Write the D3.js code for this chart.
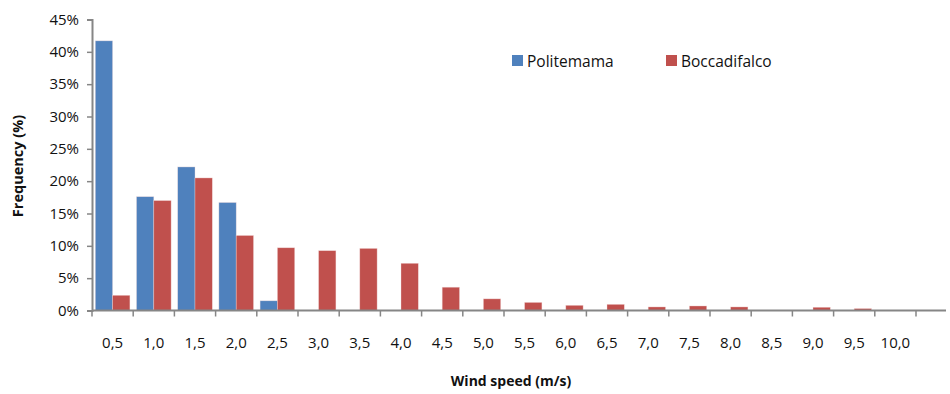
<!DOCTYPE html>
<html>
<head>
<meta charset="utf-8">
<script src="https://cdn.jsdelivr.net/npm/d3@7"></script>
<style>
  body { margin: 0; background: #fff; }
  svg text { font-family: 'Open Sans', sans-serif; fill: #111; }
</style>
</head>
<body>
<div id="viz"></div>
<script>
// wind speed classes (m/s)
const speedClasses = ['0,5', '1,0', '1,5', '2,0', '2,5', '3,0', '3,5', '4,0', '4,5', '5,0',
  '5,5', '6,0', '6,5', '7,0', '7,5', '8,0', '8,5', '9,0', '9,5', '10,0'];
const seriesNames = ['Politemama', 'Boccadifalco'];
// frequency in %
const politemama = [41.7, 17.6, 22.2, 16.7, 1.5, 0, 0, 0, 0, 0, 0, 0, 0, 0, 0, 0, 0, 0, 0, 0];
const boccadifalco = [2.35, 17.0, 20.5, 11.6, 9.7, 9.25, 9.6, 7.3, 3.6, 1.8,
  1.25, 0.8, 0.95, 0.55, 0.7, 0.55, 0, 0.5, 0.3, 0];
const yTicks = [0, 5, 10, 15, 20, 25, 30, 35, 40, 45];
const seriesColors = ['#4F81BD', '#C0504D'];

const width = 950, height = 394;
const margin = { top: 19.5, right: 34, bottom: 83.5, left: 92 };

const svg = d3.select('#viz').append('svg')
  .attr('width', width)
  .attr('height', height);

const x0 = d3.scaleBand()
  .domain(speedClasses)
  .range([margin.left, 916])
  .paddingInner(0.16)
  .paddingOuter(0.08);

const x1 = d3.scaleBand()
  .domain(seriesNames)
  .range([0, x0.bandwidth()]);

const y = d3.scaleLinear()
  .domain([0, 45])
  .range([height - margin.bottom, margin.top]);

const color = d3.scaleOrdinal().domain(seriesNames).range(seriesColors);

const rows = speedClasses.map((c, i) => ({ cls: c, values: [politemama[i], boccadifalco[i]] }));

// bars
const groups = svg.selectAll('.grp')
  .data(rows)
  .enter().append('g')
  .attr('class', 'grp')
  .attr('transform', d => `translate(${x0(d.cls)},0)`);

groups.selectAll('rect')
  .data(d => d.values.map((v, j) => ({ name: seriesNames[j], v })).filter(e => e.v > 0))
  .enter().append('rect')
  .attr('x', d => x1(d.name))
  .attr('y', d => y(d.v))
  .attr('width', x1.bandwidth())
  .attr('height', d => y(0) - y(d.v))
  .style('fill', d => color(d.name))
  .style('stroke', '#f4dcdc')
  .style('stroke-opacity', 0.6)
  .style('stroke-width', 0.6);

// y axis
const yAxis = svg.append('g')
  .attr('transform', `translate(${margin.left},0)`)
  .call(d3.axisLeft(y).tickValues(yTicks).tickSize(5).tickSizeOuter(5).tickPadding(8).tickFormat(d => d + '%'));
yAxis.select('.domain').attr('stroke', '#868686').attr('stroke-width', 2);
yAxis.selectAll('.tick line').attr('stroke', '#868686').attr('stroke-width', 1.5);
yAxis.selectAll('text').style('font-size', '15px');

// x axis: ticks between the classes
const xAxis = svg.append('g')
  .attr('transform', `translate(0,${y(0)})`);
const tickPos = speedClasses.map(c => x0(c) - x0.step() * 0.08).concat([916]);
xAxis.selectAll('line.tk')
  .data(tickPos)
  .enter().append('line')
  .attr('class', 'tk')
  .attr('x1', d => d).attr('x2', d => d)
  .attr('y1', 0).attr('y2', 6)
  .attr('stroke', '#868686').attr('stroke-width', 1.5);
xAxis.append('line')
  .attr('x1', margin.left).attr('x2', 946)
  .attr('y1', 0).attr('y2', 0)
  .attr('stroke', '#868686').attr('stroke-width', 2.2);
xAxis.selectAll('text.lbl')
  .data(speedClasses)
  .enter().append('text')
  .attr('class', 'lbl')
  .attr('x', d => x0(d) + x0.bandwidth() / 2)
  .attr('y', 37)
  .attr('text-anchor', 'middle')
  .style('font-size', '15px')
  .text(d => d);

// axis titles
svg.append('text')
  .attr('x', 511)
  .attr('y', 386)
  .attr('text-anchor', 'middle')
  .style('font-size', '14px')
  .style('font-weight', 'bold')
  .text('Wind speed (m/s)');

svg.append('text')
  .attr('transform', 'translate(23,166) rotate(-90)')
  .attr('text-anchor', 'middle')
  .style('font-size', '14.5px')
  .style('font-weight', 'bold')
  .text('Frequency (%)');

// legend
const legend = svg.append('g').attr('class', 'legend');
const legendX = [512, 666];
const legendItem = legend.selectAll('.legend-item')
  .data(seriesNames)
  .enter().append('g')
  .attr('class', 'legend-item')
  .attr('transform', (d, i) => `translate(${legendX[i]},55)`);
legendItem.append('rect')
  .attr('width', 11).attr('height', 11)
  .style('fill', d => color(d));
legendItem.append('text')
  .attr('x', 15)
  .attr('y', 11.5)
  .style('font-size', '15.5px')
  .text(d => d);
</script>
</body>
</html>
